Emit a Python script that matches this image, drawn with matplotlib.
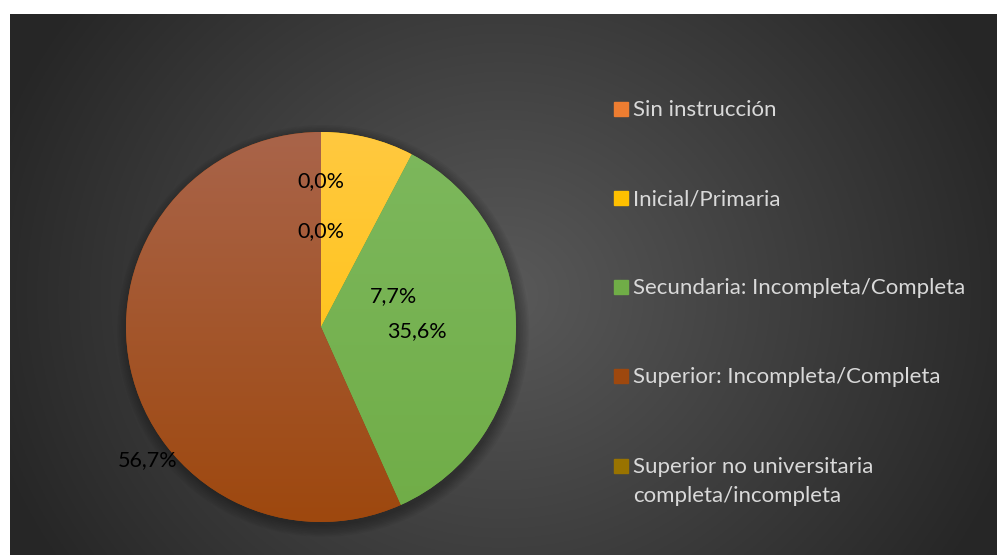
import matplotlib
matplotlib.use("Agg")
import matplotlib.pyplot as plt
import numpy as np
from matplotlib.colors import to_rgb
from matplotlib.patches import Circle, Rectangle

categories = ["Sin instrucción", "Inicial/Primaria", "Secundaria: Incompleta/Completa",
              "Superior: Incompleta/Completa", "Superior no universitaria\ncompleta/incompleta"]
values = [0.0, 7.7, 35.6, 56.7, 0.0]
pct_labels = ["0,0%", "0,0%", "7,7%", "35,6%", "56,7%"]

colors = ["#ED7D31", "#FFC000", "#70AD47", "#9E480E", "#997300"]
tops = ["#F2965C", "#FFC940", "#7DB85D", "#A9644A", "#A88A3A"]
# where Excel put the labels (pie-radius units)
label_pos = [(0.0, 0.75), (0.0, 0.49), (0.37, 0.16), (0.49, -0.02), (-0.89, -0.68)]

plt.rcParams["font.family"] = ["Lato", "DejaVu Sans"]

W, H = 997, 555
fig = plt.figure(figsize=(W / 100, H / 100), dpi=100)
fig.patch.set_facecolor("white")

# background with radial gradient
bg = fig.add_axes([10 / W, 0, 1 - 10 / W, (H - 14) / H])
bg.set_axis_off()
yy, xx = np.mgrid[0:1:300j, 0:1:540j]
d = np.sqrt(((xx - 0.5) / 0.6) ** 2 + ((yy - 0.48) / 1.0) ** 2)
shade = np.clip(0.35 - 0.22 * d, 0.15, 0.35)
bg.imshow(np.dstack([shade] * 3), extent=[0, 1, 0, 1], aspect="auto", origin="lower")
bg.set_xlim(0, 1)
bg.set_ylim(0, 1)

# pie
ax = fig.add_axes([126 / W, 33 / H, 390 / W, 390 / H])
ax.set_axis_off()

for i in range(8):
    ax.add_patch(Circle((0.012, -0.02), 1.0 + 0.008 * i, color="black", alpha=0.04,
                        zorder=0, lw=0, clip_on=False))

wedges, _ = ax.pie(values, colors=colors, startangle=90, counterclock=False, radius=1,
                   wedgeprops=dict(linewidth=0))
ax.set_xlim(-1, 1)
ax.set_ylim(-1, 1)

for w, c0, c1, v in zip(wedges, tops, colors, values):
    if v == 0:
        continue
    a, b = np.array(to_rgb(c0)), np.array(to_rgb(c1))
    t = np.linspace(0, 1, 200)[:, None]
    grad = (a * (1 - t) + b * t)[:, None, :]
    im = ax.imshow(grad, extent=[-1, 1, -1, 1], aspect="auto", origin="upper", zorder=2)
    im.set_clip_path(w)

for (x, y), s in zip(label_pos, pct_labels):
    ax.text(x, y, s, ha="center", va="center", fontsize=15.5, color="black", zorder=5)

# legend
rows = [109, 198, 287, 376, 466]
for y, lab, c in zip(rows, categories, colors):
    fig.patches.append(Rectangle((614 / W, 1 - (y + 7) / H), 14 / W, 14 / H,
                                 transform=fig.transFigure, color=c))
    fig.text(633 / W, 1 - (y - 9) / H, lab, ha="left", va="top", fontsize=16,
             color="#D9D9D9", linespacing=1.55)

fig.savefig("out.png", dpi=100)
